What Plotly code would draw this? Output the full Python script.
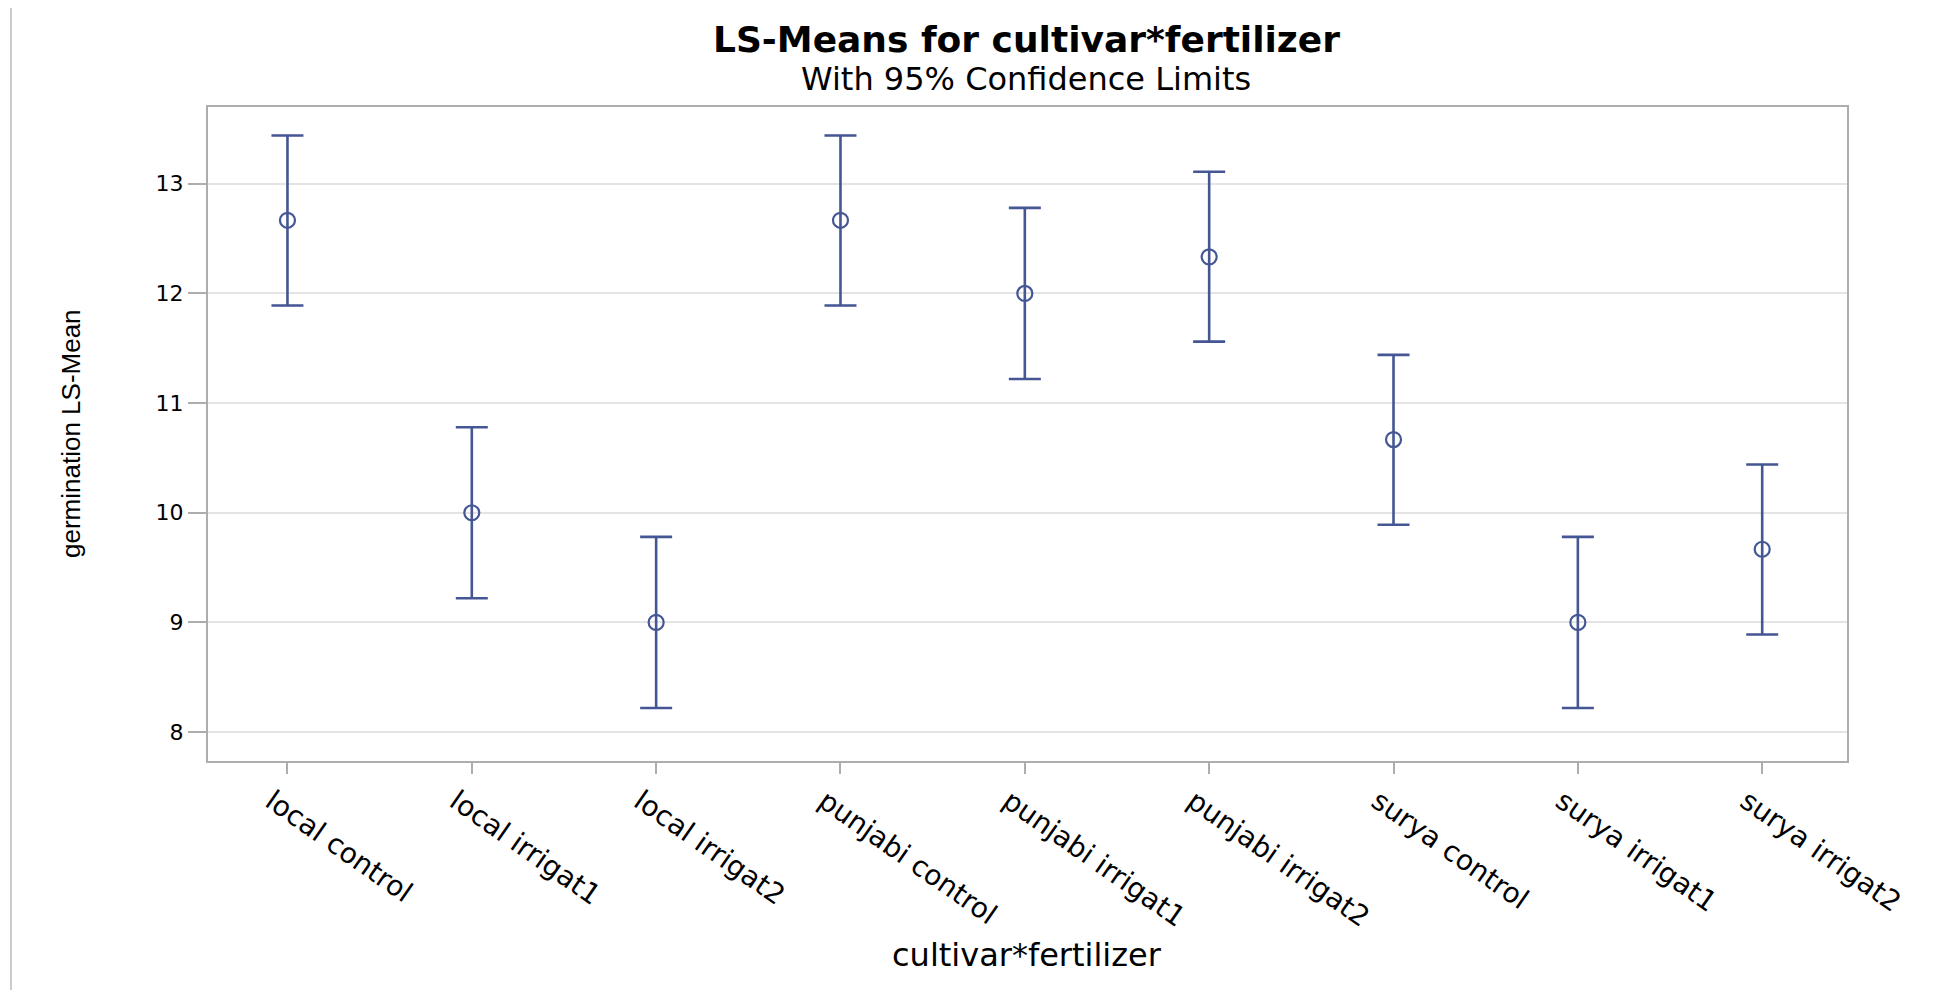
import plotly.graph_objects as go

categories = ["local control", "local irrigat1", "local irrigat2",
              "punjabi control", "punjabi irrigat1", "punjabi irrigat2",
              "surya control", "surya irrigat1", "surya irrigat2"]
lsmeans = [12.667, 10.0, 9.0, 12.667, 12.0, 12.333, 10.667, 9.0, 9.667]
lower = [11.89, 9.22, 8.22, 11.89, 11.22, 11.56, 9.89, 8.22, 8.89]
upper = [13.44, 10.78, 9.78, 13.44, 12.78, 13.11, 11.44, 9.78, 10.44]
yticks = [8, 9, 10, 11, 12, 13]

COLOR = "#445694"
FONT = "Liberation Sans, Arial, sans-serif"
WIDE = "DejaVu Sans, Verdana, sans-serif"

err_plus = [u - m for u, m in zip(upper, lsmeans)]
err_minus = [m - l for m, l in zip(lsmeans, lower)]

fig = go.Figure()
fig.add_trace(go.Scatter(
    x=categories, y=lsmeans, mode="markers",
    marker=dict(symbol="circle-open", size=15, color=COLOR, line=dict(width=2.2, color=COLOR)),
    error_y=dict(type="data", symmetric=False, array=err_plus, arrayminus=err_minus,
                 color=COLOR, thickness=2.6, width=16),
    showlegend=False,
))

# page offset (default body margin of the html page)
OFF = 8
W, H = 1946 - OFF, 990 - OFF
L, T = 208 - OFF, 107 - OFF
R = W - (1847 - OFF)
B = H - (761 - OFF)
pw, ph = W - L - R, H - T - B

def px_x(px):
    return (px - OFF - L) / pw

def px_y(py):
    return (H - B - (py - OFF)) / ph

fig.update_layout(
    width=W, height=H,
    margin=dict(l=L, r=R, t=T, b=B),
    paper_bgcolor="white", plot_bgcolor="white",
    font=dict(family=FONT, color="#000000"),
    xaxis=dict(
        type="category", categoryorder="array", categoryarray=categories,
        range=[-0.431, 8.46],
        showgrid=False, showline=True, mirror=True, linecolor="#adadad", linewidth=2,
        ticks="outside", ticklen=11, tickcolor="#adadad", tickwidth=2,
        tickangle=35, tickfont=dict(size=28, family=WIDE, color="#000000"),
        ticklabelshift=-16, ticklabelstandoff=0,
        zeroline=False,
    ),
    yaxis=dict(
        range=[7.736, 13.70], tickvals=yticks, ticktext=[str(v) for v in yticks],
        showgrid=True, gridcolor="#e4e4e4", gridwidth=1.5,
        showline=True, mirror=True, linecolor="#adadad", linewidth=2,
        ticks="outside", ticklen=18, tickcolor="#adadad", tickwidth=1.5,
        tickfont=dict(size=22, family=WIDE, color="#000000"),
        zeroline=False,
    ),
    annotations=[
        dict(text="<b>LS-Means for cultivar*fertilizer</b>", xref="paper", yref="paper",
             x=px_x(1026), y=px_y(40), xanchor="center", yanchor="middle", showarrow=False,
             font=dict(size=36, family=WIDE, color="#000000")),
        dict(text="With 95% Confidence Limits", xref="paper", yref="paper",
             x=px_x(1026), y=px_y(79), xanchor="center", yanchor="middle", showarrow=False,
             font=dict(size=32, family=WIDE, color="#000000")),
        dict(text="cultivar*fertilizer", xref="paper", yref="paper",
             x=px_x(1027), y=px_y(955), xanchor="center", yanchor="middle", showarrow=False,
             font=dict(size=32, family=WIDE, color="#000000")),
        dict(text="germination LS-Mean", xref="paper", yref="paper", textangle=-90,
             x=px_x(71), y=px_y(434), xanchor="center", yanchor="middle", showarrow=False,
             font=dict(size=26, family=FONT, color="#000000")),
    ],
    shapes=[
        dict(type="line", xref="paper", yref="paper", x0=px_x(11), x1=px_x(11), y0=px_y(2), y1=px_y(990),
             line=dict(color="#cccccc", width=2)),
        dict(type="line", xref="paper", yref="paper", x0=px_x(11), x1=px_x(1946), y0=px_y(2), y1=px_y(2),
             line=dict(color="#cccccc", width=2)),
    ],
)

fig.write_html("out.html")
